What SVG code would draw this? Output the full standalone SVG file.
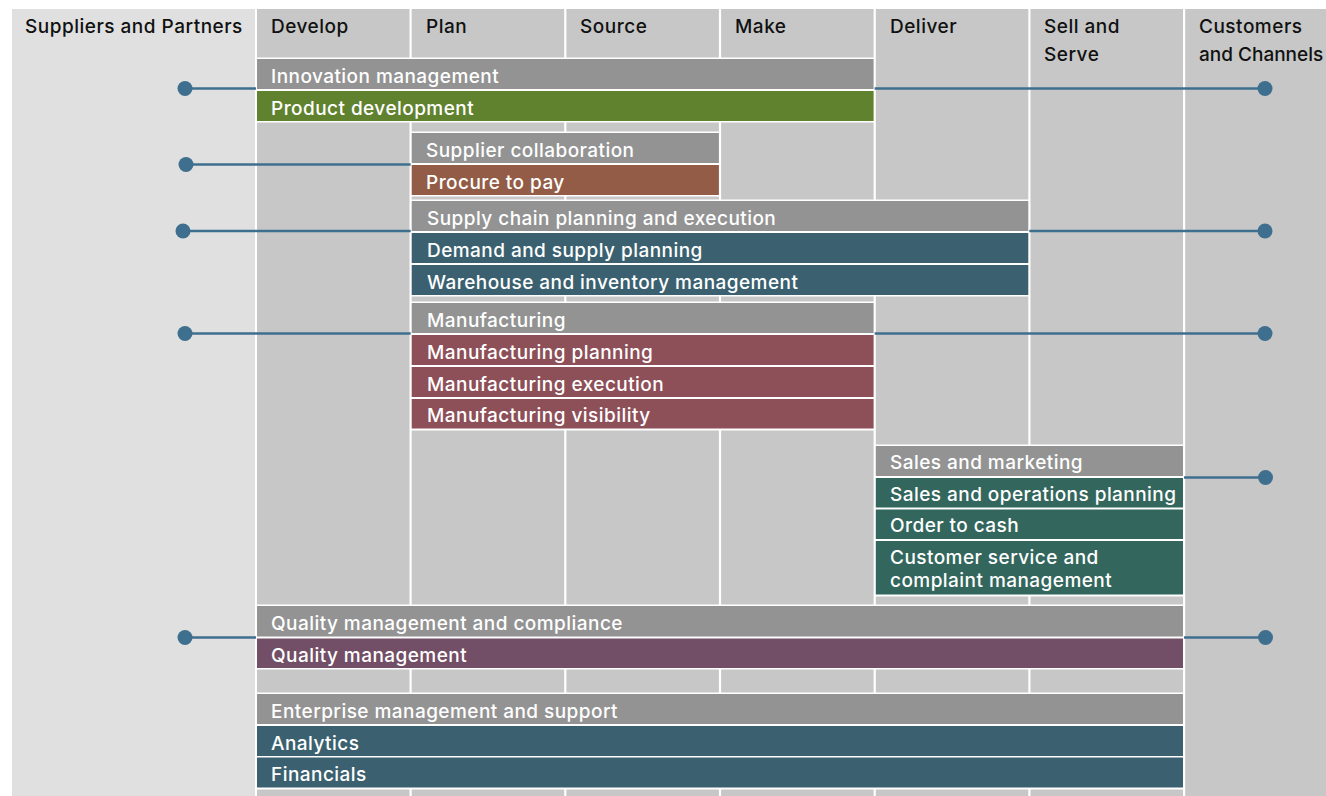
<svg xmlns="http://www.w3.org/2000/svg" width="1326" height="796" viewBox="0 0 1326 796">
<defs>
<style>
.panel{fill:#dfe0df}
.col{fill:#c6c7c6}
.back{fill:#ffffff}
.g{fill:#939393}
.green{fill:#60822f}
.brown{fill:#935c46}
.blue{fill:#3b6170}
.mfg{fill:#8d4f58}
.sales{fill:#33665d}
.qual{fill:#724f66}
.hd{font-family:Inter,"Liberation Sans",Arial,sans-serif;font-weight:500;font-size:19px;letter-spacing:0.5px;fill:#111111}
.lb{font-family:Inter,"Liberation Sans",Arial,sans-serif;font-weight:500;font-size:19px;letter-spacing:0.45px;fill:#ffffff}
.ln{stroke:#3f6f8f;stroke-width:2.6;fill:none}
.dot{fill:#3f6f8f}
</style>
</defs>
<rect width="1326" height="796" fill="#ffffff"/>
<g id="columns">
<rect class="panel" x="12" y="9" width="243" height="787"/>
<rect class="col" x="257" y="9" width="152.5" height="787"/>
<rect class="col" x="411.7" y="9" width="152.5" height="787"/>
<rect class="col" x="566.4" y="9" width="152.5" height="787"/>
<rect class="col" x="721.1" y="9" width="152.5" height="787"/>
<rect class="col" x="875.8" y="9" width="152.5" height="787"/>
<rect class="col" x="1030.5" y="9" width="152.5" height="787"/>
<rect class="col" x="1185.2" y="9" width="140.8" height="787"/>
</g>
<g id="headers">
<text class="hd" x="25" y="33">Suppliers and Partners</text>
<text class="hd" x="271" y="33">Develop</text>
<text class="hd" x="426" y="33">Plan</text>
<text class="hd" x="580" y="33">Source</text>
<text class="hd" x="735" y="33">Make</text>
<text class="hd" x="890" y="33">Deliver</text>
<text class="hd" x="1044" y="33">Sell and</text>
<text class="hd" x="1044" y="61">Serve</text>
<text class="hd" x="1199" y="33">Customers</text>
<text class="hd" x="1199" y="61" style="letter-spacing:0px">and Channels</text>
</g>
<g id="connectors">
<line class="ln" x1="185" y1="88.5" x2="257" y2="88.5"/>
<line class="ln" x1="873" y1="88.5" x2="1265" y2="88.5"/>
<circle class="dot" cx="185" cy="88.5" r="7.5"/>
<circle class="dot" cx="1265" cy="88.5" r="7.5"/>
<line class="ln" x1="186" y1="164.5" x2="412" y2="164.5"/>
<circle class="dot" cx="186" cy="164.5" r="7.5"/>
<line class="ln" x1="183" y1="231" x2="412" y2="231"/>
<line class="ln" x1="1028" y1="231" x2="1265" y2="231"/>
<circle class="dot" cx="183" cy="231" r="7.5"/>
<circle class="dot" cx="1265" cy="231" r="7.5"/>
<line class="ln" x1="185" y1="333.5" x2="412" y2="333.5"/>
<line class="ln" x1="873" y1="333.5" x2="1265" y2="333.5"/>
<circle class="dot" cx="185" cy="333.5" r="7.5"/>
<circle class="dot" cx="1265" cy="333.5" r="7.5"/>
<line class="ln" x1="1183" y1="477.5" x2="1265" y2="477.5"/>
<circle class="dot" cx="1265.5" cy="477.5" r="7.5"/>
<line class="ln" x1="185" y1="637.5" x2="257" y2="637.5"/>
<line class="ln" x1="1183" y1="637.5" x2="1265" y2="637.5"/>
<circle class="dot" cx="185" cy="637.5" r="7.5"/>
<circle class="dot" cx="1265.5" cy="637.5" r="7.5"/>
</g>
<g id="innovation">
<rect class="back" x="256" y="57.5" width="618.6" height="65"/>
<rect class="g" x="257" y="59" width="616.6" height="30"/>
<rect class="green" x="257" y="91" width="616.6" height="30"/>
<text class="lb" x="271" y="82.5">Innovation management</text>
<text class="lb" x="271" y="114.5">Product development</text>
</g>
<g id="supplier">
<rect class="back" x="410.7" y="131.5" width="309.2" height="65"/>
<rect class="g" x="411.7" y="133" width="307.2" height="30"/>
<rect class="brown" x="411.7" y="165" width="307.2" height="30"/>
<text class="lb" x="426" y="156.5">Supplier collaboration</text>
<text class="lb" x="426" y="188.5">Procure to pay</text>
</g>
<g id="supplychain">
<rect class="back" x="410.7" y="199.5" width="618.6" height="97"/>
<rect class="g" x="411.7" y="201" width="616.6" height="30"/>
<rect class="blue" x="411.7" y="233" width="616.6" height="30"/>
<rect class="blue" x="411.7" y="265" width="616.6" height="30"/>
<text class="lb" x="427" y="224.5">Supply chain planning and execution</text>
<text class="lb" x="427" y="256.5">Demand and supply planning</text>
<text class="lb" x="427" y="288.5">Warehouse and inventory management</text>
</g>
<g id="manufacturing">
<rect class="back" x="410.7" y="301.5" width="463.9" height="129"/>
<rect class="g" x="411.7" y="303" width="461.9" height="30"/>
<rect class="mfg" x="411.7" y="335" width="461.9" height="30"/>
<rect class="mfg" x="411.7" y="367" width="461.9" height="30"/>
<rect class="mfg" x="411.7" y="399" width="461.9" height="29.5"/>
<text class="lb" x="427" y="326.5">Manufacturing</text>
<text class="lb" x="427" y="358.5">Manufacturing planning</text>
<text class="lb" x="427" y="390.5">Manufacturing execution</text>
<text class="lb" x="427" y="421.5">Manufacturing visibility</text>
</g>
<g id="sales">
<rect class="back" x="874.8" y="444.5" width="309.2" height="152"/>
<rect class="g" x="875.8" y="446" width="307.2" height="30"/>
<rect class="sales" x="875.8" y="478" width="307.2" height="29.5"/>
<rect class="sales" x="875.8" y="509.5" width="307.2" height="29.5"/>
<rect class="sales" x="875.8" y="541" width="307.2" height="53.5"/>
<text class="lb" x="890" y="469.3">Sales and marketing</text>
<text class="lb" x="890" y="501">Sales and operations planning</text>
<text class="lb" x="890" y="532">Order to cash</text>
<text class="lb" x="890" y="564">Customer service and</text>
<text class="lb" x="890" y="587">complaint management</text>
</g>
<g id="quality">
<rect class="back" x="256" y="604.5" width="928" height="65"/>
<rect class="g" x="257" y="606" width="926" height="30.5"/>
<rect class="qual" x="257" y="638.5" width="926" height="29.5"/>
<text class="lb" x="271" y="629.5">Quality management and compliance</text>
<text class="lb" x="271" y="661.5">Quality management</text>
</g>
<g id="enterprise">
<rect class="back" x="256" y="692.5" width="928" height="97"/>
<rect class="g" x="257" y="694" width="926" height="30"/>
<rect class="blue" x="257" y="726" width="926" height="30"/>
<rect class="blue" x="257" y="757.5" width="926" height="30"/>
<text class="lb" x="271" y="717.5">Enterprise management and support</text>
<text class="lb" x="271" y="749.5">Analytics</text>
<text class="lb" x="271" y="780.5">Financials</text>
</g>
</svg>
